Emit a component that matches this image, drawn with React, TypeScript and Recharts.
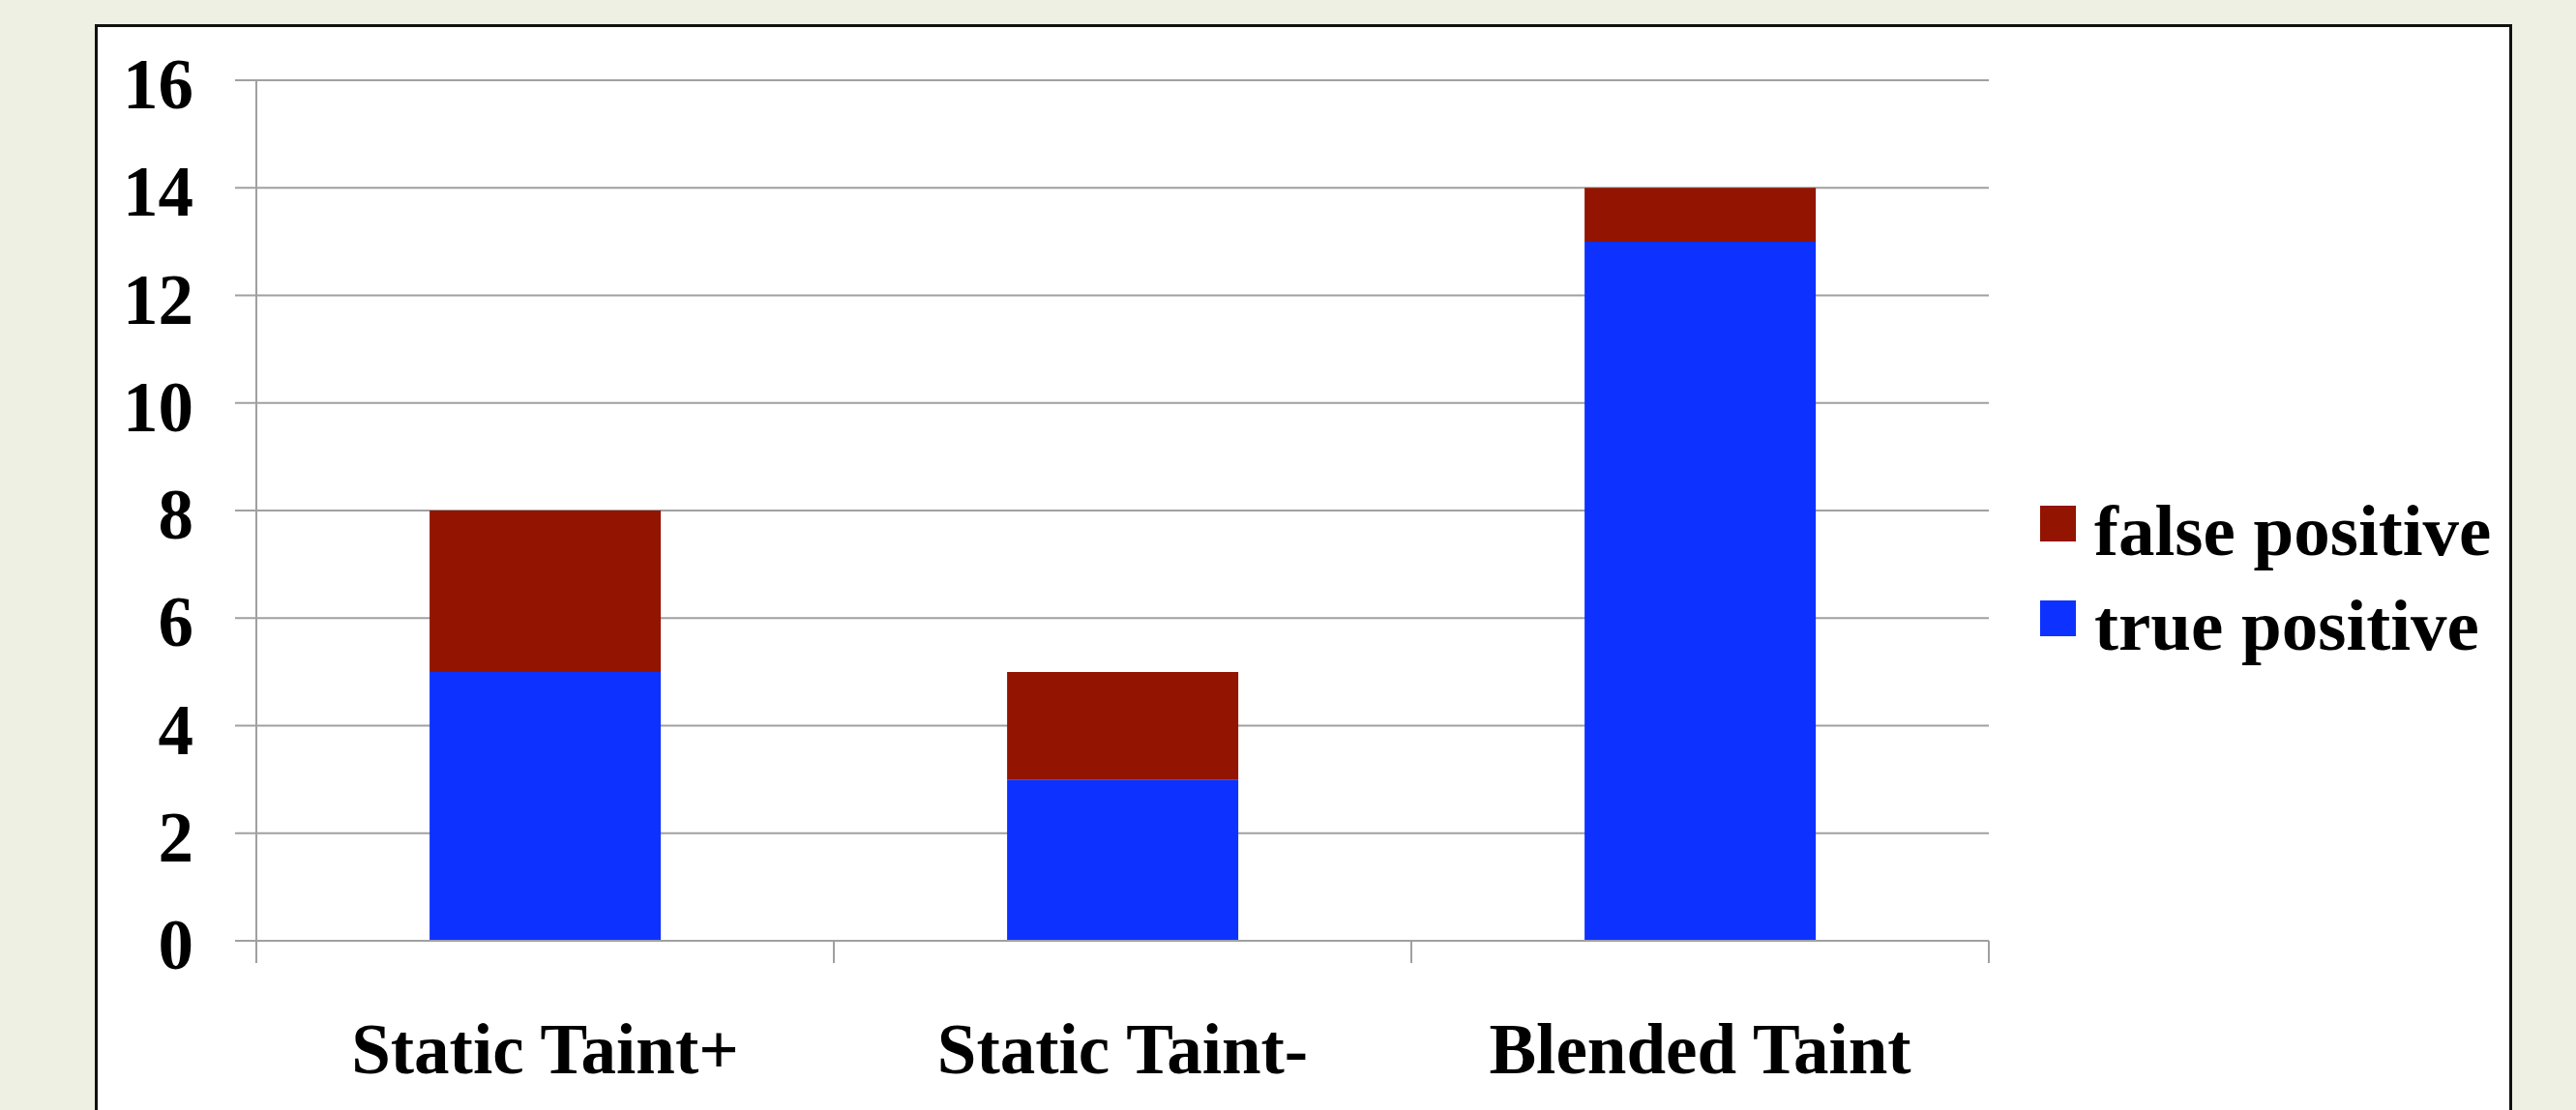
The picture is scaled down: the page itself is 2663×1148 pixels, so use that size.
import React from 'react';
import { BarChart, Bar, XAxis, YAxis, CartesianGrid, Legend } from 'recharts';

const categories = ['Static Taint+', 'Static Taint-', 'Blended Taint'];
const truePositive = [5, 3, 13];
const falsePositive = [3, 2, 1];
const yTicks = [0, 2, 4, 6, 8, 10, 12, 14, 16];
const legendOrder = ['false positive', 'true positive'];

const data = categories.map((category, i) => ({
  category,
  tp: truePositive[i],
  fp: falsePositive[i],
}));

const FONT = '"Liberation Serif", "Times New Roman", serif';
const GRID = '#a0a0a0';
const X_TICK_SIZE = 23;
const X_TICK_MARGIN = 62;

// category ticks sit on the band edges, not the centres
const CategoryTick = (props: any) => {
  const { x, y, payload, index } = props;
  const off = payload && payload.offset ? payload.offset : 0;
  const top = y - X_TICK_MARGIN - X_TICK_SIZE;
  const bottom = y - X_TICK_MARGIN;
  return (
    <g>
      <line x1={x - off} x2={x - off} y1={top} y2={bottom} stroke={GRID} strokeWidth={2} />
      {index === categories.length - 1 && (
        <line x1={x + off} x2={x + off} y1={top} y2={bottom} stroke={GRID} strokeWidth={2} />
      )}
      <text
        x={x}
        y={y}
        dy="0.71em"
        textAnchor="middle"
        fill="#000"
        fontSize={73}
        fontWeight="bold"
        fontFamily={FONT}
      >
        {payload.value}
      </text>
    </g>
  );
};

const ValueTick = (props: any) => {
  const { x, y, payload } = props;
  return (
    <text x={x} y={y} dy={29} textAnchor="end" fill="#000" fontSize={73} fontWeight="bold" fontFamily={FONT}>
      {payload.value}
    </text>
  );
};

const renderLegend = (props: any) => {
  const items = [...(props.payload || [])].sort(
    (a: any, b: any) => legendOrder.indexOf(a.value) - legendOrder.indexOf(b.value)
  );
  return (
    <div style={{ paddingLeft: 53 }}>
      {items.map((item: any) => (
        <div
          key={item.value}
          style={{
            position: 'relative',
            height: 98,
            lineHeight: '98px',
            fontSize: 75,
            fontWeight: 'bold',
            fontFamily: FONT,
            whiteSpace: 'nowrap',
            color: '#000',
          }}
        >
          <span
            style={{ position: 'absolute', left: 0, top: 23, width: 37, height: 37, background: item.color }}
          />
          <span style={{ marginLeft: 56 }}>{item.value}</span>
        </div>
      ))}
    </div>
  );
};

export default function App() {
  return (
    <div
      style={{
        position: 'absolute',
        left: 0,
        top: 0,
        width: 2663,
        height: 1148,
        overflow: 'hidden',
        background: '#eef0e3',
      }}
    >
      <div
        style={{
          position: 'absolute',
          left: 98,
          top: 25,
          width: 2499,
          height: 1200,
          boxSizing: 'border-box',
          background: '#fff',
          border: '3px solid #111',
        }}
      />
      <div style={{ position: 'absolute', left: 0, top: 0 }}>
        <BarChart
          width={2663}
          height={1148}
          data={data}
          margin={{ top: 83, right: 47, bottom: 0, left: 0 }}
          barCategoryGap="30%"
        >
          <CartesianGrid vertical={false} stroke={GRID} strokeWidth={2} />
          <XAxis
            dataKey="category"
            height={175}
            interval={0}
            tickSize={X_TICK_SIZE}
            tickMargin={X_TICK_MARGIN}
            tickLine={false}
            axisLine={{ stroke: GRID, strokeWidth: 2 }}
            tick={<CategoryTick />}
          />
          <YAxis
            type="number"
            domain={[0, 16]}
            ticks={yTicks}
            interval={0}
            width={265}
            tickSize={22}
            tickMargin={43}
            tickLine={{ stroke: GRID, strokeWidth: 2 }}
            axisLine={{ stroke: GRID, strokeWidth: 2 }}
            tick={<ValueTick />}
          />
          <Legend
            layout="vertical"
            align="right"
            verticalAlign="top"
            width={560}
            wrapperStyle={{ top: 500 }}
            content={renderLegend}
          />
          <Bar dataKey="tp" name="true positive" stackId="a" fill="#0d32ff" isAnimationActive={false} />
          <Bar dataKey="fp" name="false positive" stackId="a" fill="#931400" isAnimationActive={false} />
        </BarChart>
      </div>
    </div>
  );
}
